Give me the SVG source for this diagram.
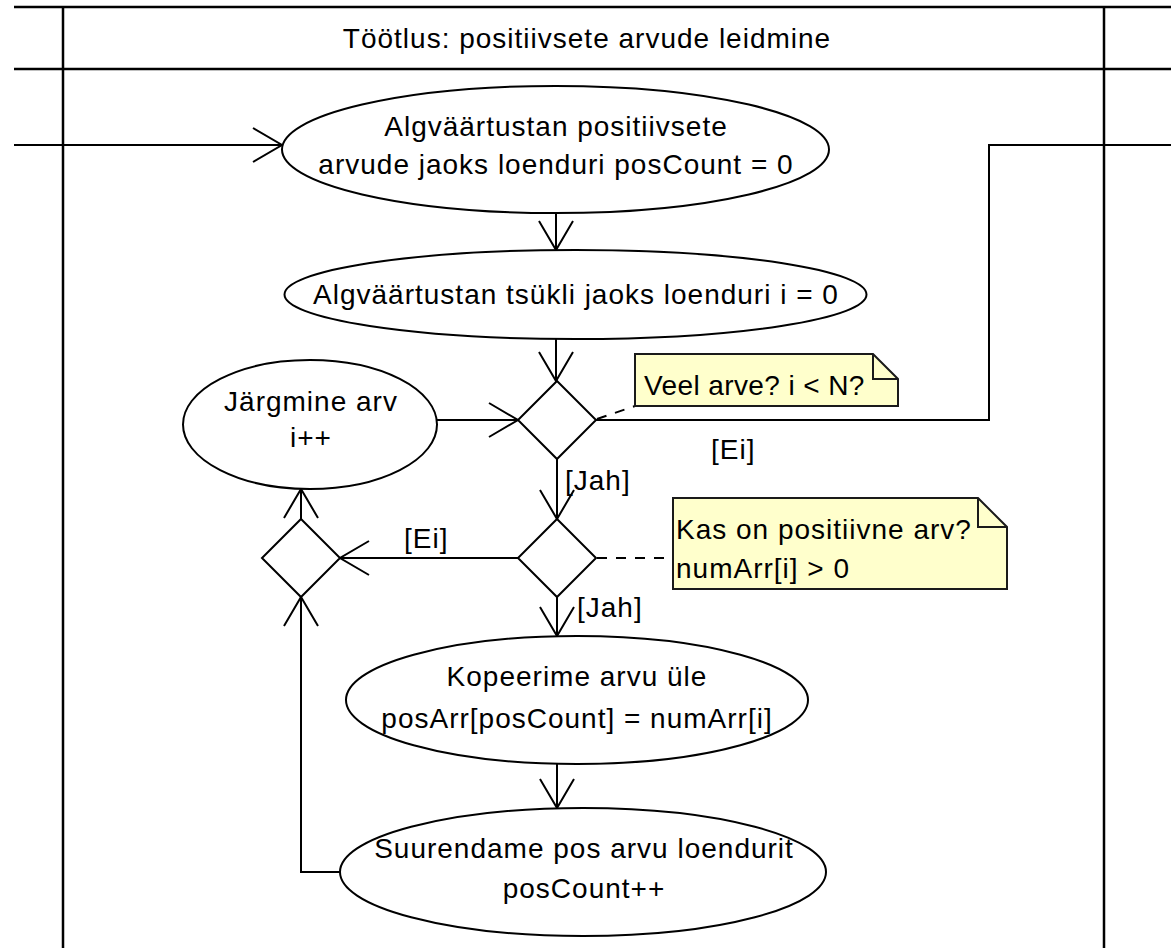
<svg xmlns="http://www.w3.org/2000/svg" width="1171" height="948" viewBox="0 0 1171 948">
<style>
.frame{stroke:#000;stroke-width:2.5;fill:none}
.shape{fill:#fff;stroke:#000;stroke-width:2}
.note{fill:#ffffcc;stroke:#1a1a1a;stroke-width:2}
.fold{fill:none;stroke:#1a1a1a;stroke-width:2}
.edge{fill:none;stroke:#000;stroke-width:2}
.dash{fill:none;stroke:#000;stroke-width:2;stroke-dasharray:10 9}
text{font-family:"Liberation Sans",Arial,sans-serif;font-size:28px;letter-spacing:1px;fill:#000}
.c{text-anchor:middle}
.tight{letter-spacing:0.4px}
</style>
<defs>
<marker id="open" markerUnits="userSpaceOnUse" markerWidth="40" markerHeight="40" viewBox="-32 -20 36 40" refX="0" refY="0" orient="auto" overflow="visible">
<path d="M-29,-17 L0,0 L-29,17" fill="none" stroke="#000" stroke-width="2"/>
</marker>
</defs>
<rect width="1171" height="948" fill="#fff"/>
<g id="frame">
<line class="frame" x1="14" y1="7" x2="1171" y2="7"/>
<line class="frame" x1="14" y1="69" x2="1171" y2="69"/>
<line class="frame" x1="63" y1="7" x2="63" y2="948"/>
<line class="frame" x1="1104" y1="7" x2="1104" y2="948"/>
<text class="c" x="587" y="48">Töötlus: positiivsete arvude leidmine</text>
</g>
<g id="connectors">
<line class="edge" x1="14" y1="145" x2="282" y2="145" marker-end="url(#open)"/>
<line class="edge" x1="556" y1="213" x2="556" y2="250" marker-end="url(#open)"/>
<line class="edge" x1="556" y1="339" x2="556" y2="381" marker-end="url(#open)"/>
<line class="edge" x1="437" y1="420" x2="518" y2="420" marker-end="url(#open)"/>
<polyline class="edge" points="596,420 989,420 989,145 1171,145"/>
<line class="edge" x1="557" y1="459" x2="557" y2="519" marker-end="url(#open)"/>
<line class="edge" x1="518" y1="558" x2="340" y2="558" marker-end="url(#open)"/>
<line class="edge" x1="301" y1="519" x2="301" y2="489" marker-end="url(#open)"/>
<line class="edge" x1="557" y1="597" x2="557" y2="636" marker-end="url(#open)"/>
<line class="edge" x1="557" y1="764" x2="557" y2="808" marker-end="url(#open)"/>
<polyline class="edge" points="340,872 301,872 301,597" marker-end="url(#open)"/>
<line class="dash" x1="597" y1="419" x2="635" y2="406"/>
<line class="dash" x1="597" y1="558" x2="673" y2="558"/>
<text x="711" y="459">[Ei]</text>
<text x="565" y="490">[Jah]</text>
<text x="404" y="548">[Ei]</text>
<text x="577" y="617">[Jah]</text>
</g>
<g id="n1">
<ellipse class="shape" cx="555.5" cy="149.5" rx="273.5" ry="63.5"/>
<text class="c" x="556" y="136">Algväärtustan positiivsete</text>
<text class="c" x="556" y="174">arvude jaoks loenduri posCount = 0</text>
</g>
<g id="n2">
<ellipse class="shape" cx="575.5" cy="294.5" rx="291" ry="44.5"/>
<text class="c" x="576" y="304">Algväärtustan tsükli jaoks loenduri i = 0</text>
</g>
<g id="d1">
<polygon class="shape" points="557,381 596,420 557,459 518,420"/>
</g>
<g id="n3">
<ellipse class="shape" cx="310" cy="424.5" rx="127" ry="64.5"/>
<text class="c" x="311" y="411">Järgmine arv</text>
<text class="c" x="311" y="447">i++</text>
</g>
<g id="note1">
<path class="note" d="M635,354 L873,354 L898,379 L898,406 L635,406 Z"/>
<path class="fold" d="M873,354 L873,379 L898,379"/>
<text class="tight" x="644" y="395">Veel arve? i &lt; N?</text>
</g>
<g id="d2">
<polygon class="shape" points="557,519 596,558 557,597 518,558"/>
</g>
<g id="d3">
<polygon class="shape" points="301,519 340,558 301,597 262,558"/>
</g>
<g id="note2">
<path class="note" d="M673,498 L978,498 L1007,527 L1007,589 L673,589 Z"/>
<path class="fold" d="M978,498 L978,527 L1007,527"/>
<text x="676" y="539">Kas on positiivne arv?</text>
<text x="676" y="578">numArr[i] &gt; 0</text>
</g>
<g id="n4">
<ellipse class="shape" cx="577" cy="700" rx="231" ry="64"/>
<text class="c" x="577" y="686">Kopeerime arvu üle</text>
<text class="c" x="577" y="728">posArr[posCount] = numArr[i]</text>
</g>
<g id="n5">
<ellipse class="shape" cx="583" cy="872" rx="243" ry="64"/>
<text class="c" x="584" y="858">Suurendame pos arvu loendurit</text>
<text class="c" x="584" y="898">posCount++</text>
</g>
</svg>
